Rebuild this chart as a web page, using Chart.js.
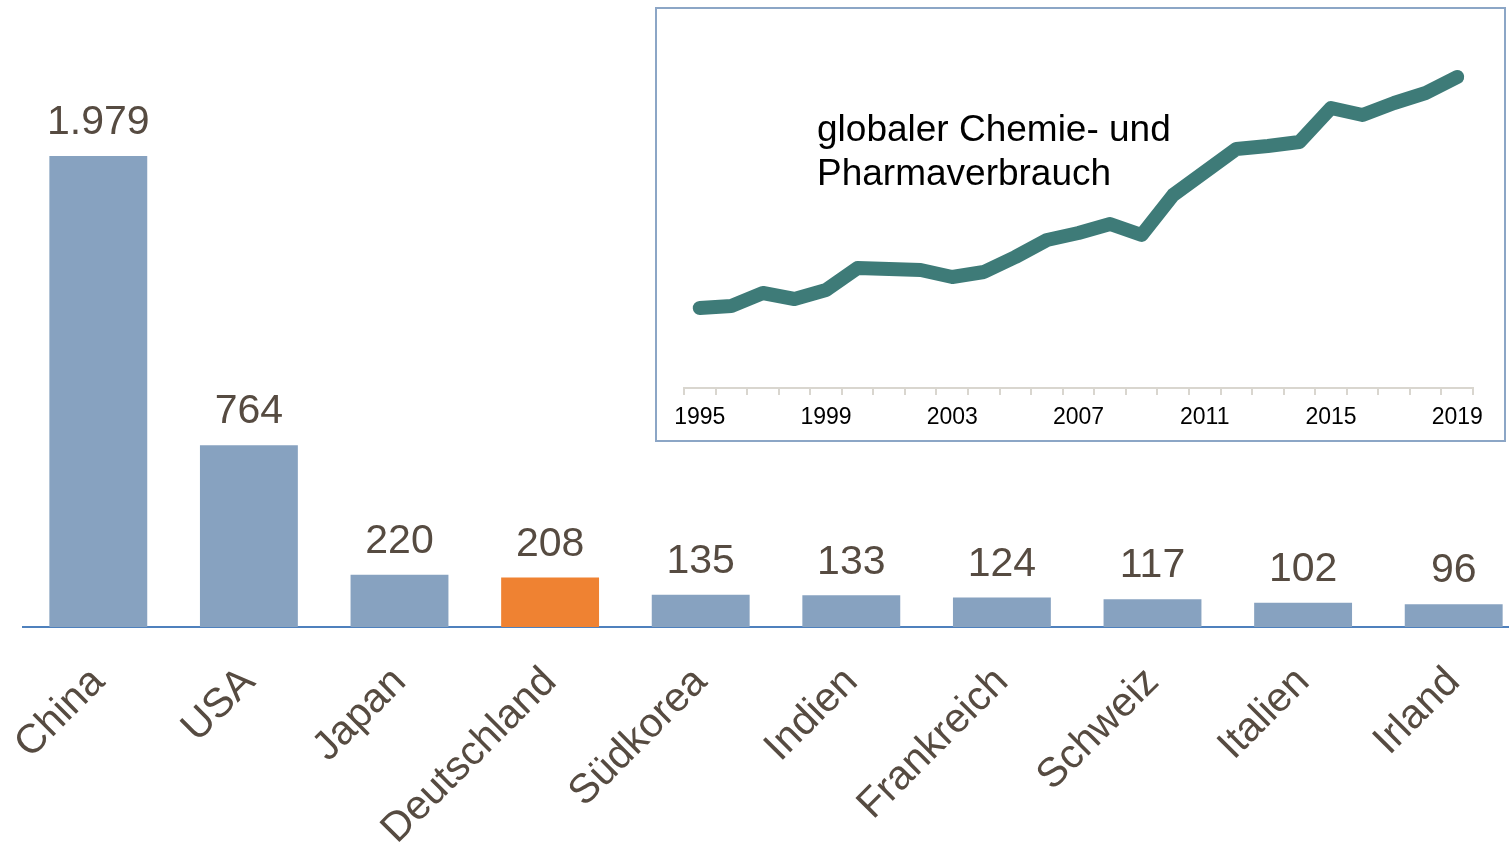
<!DOCTYPE html>
<html>
<head>
<meta charset="utf-8">
<script src="https://cdn.jsdelivr.net/npm/chart.js@4"></script>
<style>
  html, body { margin: 0; padding: 0; background: #fff; overflow: hidden; }
  #main { position: absolute; left: 0; top: 0; width: 1535px; height: 847px; }
  #inset { position: absolute; left: 655px; top: 7px; width: 847px; height: 431px;
           border: 2px solid #8ca6c6; background: #fff; }
  #insetTitle { position: absolute; left: 160px; top: 98px; font-family: "Liberation Sans", Arial, sans-serif;
                font-size: 37px; line-height: 44px; color: #000; white-space: nowrap; }
</style>
</head>
<body>
<div id="main"><canvas id="bars"></canvas></div>
<div id="inset">
  <canvas id="line"></canvas>
  <div id="insetTitle">globaler Chemie- und<br>Pharmaverbrauch</div>
</div>
<script>
// Länder und Werte
const countries = ['China', 'USA', 'Japan', 'Deutschland', 'Südkorea', 'Indien', 'Frankreich', 'Schweiz', 'Italien', 'Irland'];
const consumption = [1979, 764, 220, 208, 135, 133, 124, 117, 102, 96];
const barColors = ['#87a2c0', '#87a2c0', '#87a2c0', '#ef8232', '#87a2c0', '#87a2c0', '#87a2c0', '#87a2c0', '#87a2c0', '#87a2c0'];

// globaler Verbrauch (Index)
const years = ['1995','1996','1997','1998','1999','2000','2001','2002','2003','2004','2005','2006','2007',
               '2008','2009','2010','2011','2012','2013','2014','2015','2016','2017','2018','2019'];
const globalIndex = [92, 94, 107, 101, 110, 132, 131, 130, 123, 128, 143, 160, 167,
                     176, 165, 205, 228, 251, 254, 258, 292, 285, 297, 307, 323];

const textColor = '#564b41';
const fontName = '"Liberation Sans", Arial, sans-serif';

function fmt(v) {
    return String(v).replace(/\B(?=(\d{3})+(?!\d))/g, '.');
}

const valueLabels = {
    id: 'valueLabels',
    afterDatasetsDraw(chart) {
        const ctx = chart.ctx;
        const meta = chart.getDatasetMeta(0);
        ctx.save();
        ctx.font = '41px ' + fontName;
        ctx.fillStyle = textColor;
        ctx.textAlign = 'center';
        ctx.textBaseline = 'middle';
        meta.data.forEach((bar, i) => {
            ctx.fillText(fmt(consumption[i]), bar.x, bar.y - 33);
        });
        ctx.restore();
    }
};

new Chart(document.getElementById('bars'), {
    type: 'bar',
    data: {
        labels: countries,
        datasets: [{
            data: consumption,
            backgroundColor: barColors,
            barPercentage: 0.65,
            categoryPercentage: 1
        }]
    },
    options: {
        responsive: true,
        maintainAspectRatio: false,
        animation: false,
        layout: { padding: { left: 23, right: 6, top: 0, bottom: 0 } },
        plugins: { legend: { display: false }, tooltip: { enabled: false } },
        scales: {
            y: { display: false, min: 0, max: 2634 },
            x: {
                grid: { display: false },
                border: { color: '#4f81bd', width: 2 },
                ticks: {
                    color: textColor,
                    font: { family: fontName, size: 41 },
                    minRotation: 45, maxRotation: 45,
                    autoSkip: false,
                    padding: 23
                },
                afterFit(scale) {
                    scale.height = 220;
                    scale.paddingLeft = 0;
                    scale.paddingRight = 0;
                }
            }
        }
    },
    plugins: [valueLabels]
});

new Chart(document.getElementById('line'), {
    type: 'line',
    data: {
        labels: years,
        datasets: [{
            data: globalIndex,
            borderColor: '#3e7b78',
            borderWidth: 14,
            borderCapStyle: 'round',
            borderJoinStyle: 'round',
            pointRadius: 0,
            tension: 0,
            clip: false
        }]
    },
    options: {
        responsive: true,
        maintainAspectRatio: false,
        animation: false,
        layout: { padding: { left: 27, right: 31, top: 0, bottom: 0 } },
        plugins: { legend: { display: false }, tooltip: { enabled: false } },
        scales: {
            y: { display: false, min: 12, max: 391 },
            x: {
                offset: true,
                grid: { offset: true, drawOnChartArea: false, drawTicks: true, tickLength: 7, color: '#d9d6cf', lineWidth: 2 },
                border: { color: '#d9d6cf', width: 2 },
                ticks: {
                    color: '#000',
                    font: { family: fontName, size: 23 },
                    autoSkip: false,
                    maxRotation: 0,
                    padding: 9,
                    callback(val, i) { return i % 4 === 0 ? years[i] : ''; }
                },
                afterFit(scale) {
                    scale.height = 52;
                    scale.paddingLeft = 0;
                    scale.paddingRight = 0;
                }
            }
        }
    }
});
</script>
</body>
</html>
